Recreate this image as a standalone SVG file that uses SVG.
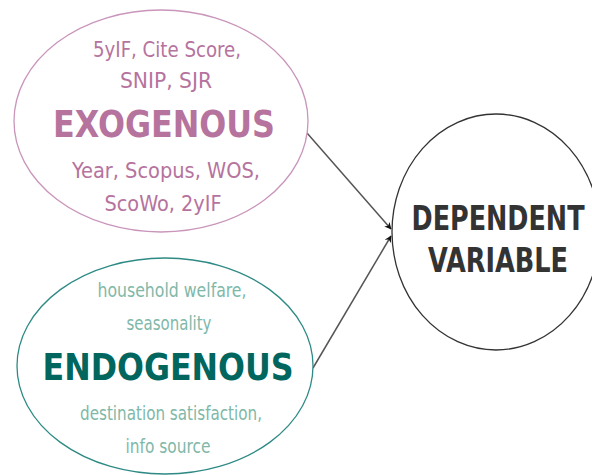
<svg xmlns="http://www.w3.org/2000/svg" width="592" height="475" viewBox="0 0 592 475">
  <style>
    text { font-family: "DejaVu Sans Condensed", "DejaVu Sans", sans-serif; text-anchor: middle; }
    .exo-sub { fill: #b5739e; font-size: 21px; }
    .exo-title { fill: #b5739e; font-size: 38px; font-weight: bold; }
    .endo-sub { fill: #7fb8a8; font-size: 19px; }
    .endo-title { fill: #00665e; font-size: 38px; font-weight: bold; }
    .dep-title { fill: #333333; font-size: 33px; font-weight: bold; }
    .edge { stroke: #555555; stroke-width: 1.5; fill: none; marker-end: url(#arrow); }
  </style>
  <defs>
    <marker id="arrow" viewBox="0 0 10 10" refX="9" refY="5" markerWidth="7" markerHeight="7" orient="auto" markerUnits="userSpaceOnUse">
      <path d="M0,0 L10,5 L0,10 L3,5 Z" fill="#111111"/>
    </marker>
  </defs>
  <rect width="592" height="475" fill="#ffffff"/>

  <g id="connectors">
    <line class="edge" x1="307" y1="133" x2="391" y2="229"/>
    <line class="edge" x1="313" y1="368" x2="391" y2="236"/>
  </g>

  <g id="exogenous">
    <ellipse cx="161" cy="121" rx="147" ry="111" fill="#ffffff" stroke="#c995bb" stroke-width="1.3"/>
    <text class="exo-sub" x="167" y="57" textLength="148" lengthAdjust="spacingAndGlyphs">5yIF, Cite Score,</text>
    <text class="exo-sub" x="166" y="88" textLength="92" lengthAdjust="spacingAndGlyphs">SNIP, SJR</text>
    <text class="exo-title" x="164" y="137" textLength="222" lengthAdjust="spacingAndGlyphs">EXOGENOUS</text>
    <text class="exo-sub" x="166" y="178" textLength="188" lengthAdjust="spacingAndGlyphs">Year, Scopus, WOS,</text>
    <text class="exo-sub" x="163" y="211" textLength="117" lengthAdjust="spacingAndGlyphs">ScoWo, 2yIF</text>
  </g>

  <g id="endogenous">
    <ellipse cx="165" cy="366" rx="148" ry="108" fill="#ffffff" stroke="#2e8a85" stroke-width="1.3"/>
    <text class="endo-sub" x="172" y="297" textLength="149" lengthAdjust="spacingAndGlyphs">household welfare,</text>
    <text class="endo-sub" x="169" y="330" textLength="85" lengthAdjust="spacingAndGlyphs">seasonality</text>
    <text class="endo-title" x="168" y="380" textLength="251" lengthAdjust="spacingAndGlyphs">ENDOGENOUS</text>
    <text class="endo-sub" x="171" y="420" textLength="182" lengthAdjust="spacingAndGlyphs">destination satisfaction,</text>
    <text class="endo-sub" x="168" y="453" textLength="85" lengthAdjust="spacingAndGlyphs">info source</text>
  </g>

  <g id="dependent">
    <ellipse cx="496" cy="232" rx="104" ry="118" fill="#ffffff" stroke="#333333" stroke-width="1.3"/>
    <text class="dep-title" x="498" y="230" textLength="173" lengthAdjust="spacingAndGlyphs">DEPENDENT</text>
    <text class="dep-title" x="498" y="272" textLength="140" lengthAdjust="spacingAndGlyphs">VARIABLE</text>
  </g>
</svg>
